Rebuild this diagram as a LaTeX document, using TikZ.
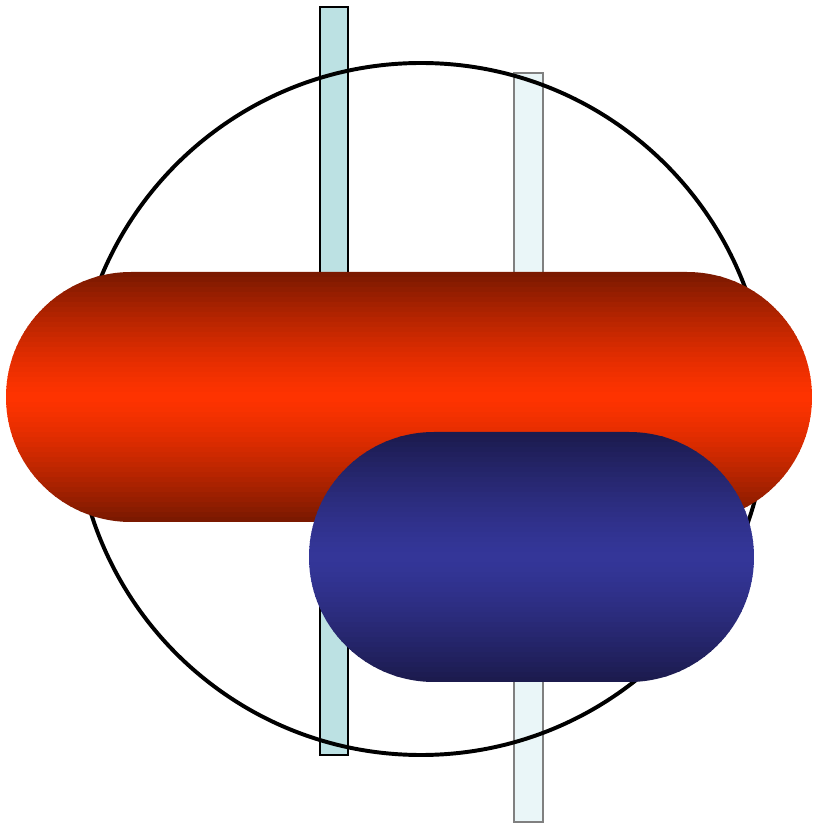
\documentclass[tikz,border=0pt]{standalone}
\usepackage{tikz}
\definecolor{barcyan}{HTML}{BCE1E3}
\definecolor{barpale}{HTML}{EAF6F8}
\definecolor{pilldark}{HTML}{781800}
\definecolor{pillred}{HTML}{FF3300}
\definecolor{pillnavy}{HTML}{1B1A4C}
\definecolor{pillblue}{HTML}{343699}

% capsule filled with a vertical dark-light-dark gradient, built from stripes
\newcommand{\shadedpill}[6]{%
  \begin{scope}
    \clip[rounded corners=3.125cm] (#1,#2) rectangle (#3,#4);
    \foreach \k in {0,...,49} {
      \pgfmathsetmacro{\mix}{100*(1-(abs(\k+0.5-25)/25)^1.3)}
      \fill[#6!\mix!#5] (#1,{#2+\k*(#4-#2)/50}) rectangle (#3,{#2+(\k+1.15)*(#4-#2)/50});
    }
  \end{scope}}

\begin{document}
\begin{tikzpicture}[
    x=0.025cm, y=0.025cm,
    bar/.style={draw=black, line width=1.3pt, fill=barcyan},
    palebar/.style={draw=gray, line width=1.1pt, fill=barpale},
    ring/.style={draw=black, line width=2.8pt},
]
\useasboundingbox (0,0) rectangle (812,825);

% rods
\path[bar] (320,70) rectangle (348,818);
\path[palebar] (514,3) rectangle (543,752);

% outer ring
\path[ring] (421,416) circle[radius=346];

% capsules
\shadedpill{6}{303}{812}{553}{pilldark}{pillred}
\shadedpill{309}{143}{754}{393}{pillnavy}{pillblue}
\end{tikzpicture}
\end{document}
